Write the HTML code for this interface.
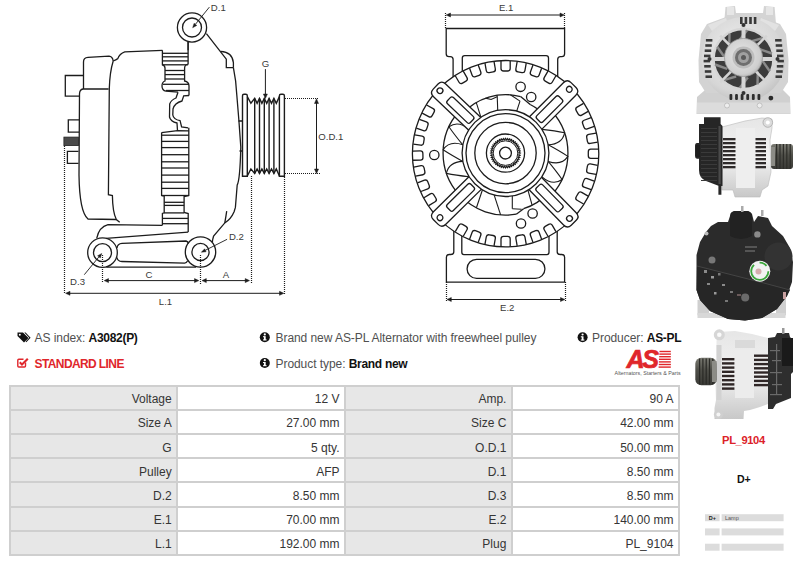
<!DOCTYPE html>
<html><head><meta charset="utf-8">
<style>
*{margin:0;padding:0;box-sizing:border-box}
html,body{width:800px;height:564px;overflow:hidden;background:#fff;font-family:"Liberation Sans",sans-serif;color:#333}
#draw{position:absolute;left:0;top:0}
.c{position:absolute;text-align:right;font-size:12px;color:#353535}
.c span{position:absolute;right:5.3px;top:6.5px;white-space:nowrap}
.hl{position:absolute;left:8.5px;width:671.3px;height:2px;background:#cfcfcf}
.vl{position:absolute;top:384.6px;height:171.3px;width:2px;background:#cfcfcf}
.t{position:absolute;white-space:nowrap;font-size:12px;color:#505050;letter-spacing:-0.06px}
.t b{color:#111;letter-spacing:-0.3px}
</style></head><body>
<svg id="draw" width="800" height="564" viewBox="0 0 800 564" font-family="Liberation Sans, sans-serif">
<path d="M83.5,89 L83.5,62 Q83.5,57.5 88,57.3 L109,56.2 Q112.5,56.4 113.2,61" fill="none" stroke="#1c1c1c" stroke-width="1.3" />
<path d="M83.5,75.5 L65.3,75.5 L65.3,96.2 L80,96.2" fill="none" stroke="#1c1c1c" stroke-width="1.3" />
<path d="M108.6,89 L83,89 Q79.6,89.5 79.5,94 L79,175 Q79.5,212 88,219 L116.3,219.5" fill="none" stroke="#1c1c1c" stroke-width="1.3" />
<path d="M79,119.8 L68.3,119.8 L68.3,132.2 L79,132.2" fill="none" stroke="#1c1c1c" stroke-width="1.3" />
<rect x="63.9" y="137.1" width="14.5" height="8.5" fill="#4a4a4a" stroke="#222" stroke-width="0.8"/>
<path d="M78.5,151.3 L67.4,151.3 L67.4,163.3 L78.5,163.3" fill="none" stroke="#1c1c1c" stroke-width="1.3" />
<path d="M113.2,61 Q116,59.8 117.8,58.6 Q119.5,53.5 124.8,51.8 L162.4,50.3" fill="none" stroke="#1c1c1c" stroke-width="1.3" />
<path d="M113.2,61 Q109.8,72 109.3,88.4 L108.4,194.7 L112.4,195.5 Q112.6,212 116.3,219.5 L119.7,222.3" fill="none" stroke="#1c1c1c" stroke-width="1.3" />
<path d="M162.4,50.3 L162.4,64.8 Q165,65.5 165,68 L165,81 Q162,82 162,86 Q162,90.5 166,91.2 L178,92.2" fill="none" stroke="#1c1c1c" stroke-width="1.3" />
<path d="M188.1,42 L188.1,64 Q184.6,65 184.6,68 L184.6,81 Q189,82 189,86 L189,95.5" fill="none" stroke="#1c1c1c" stroke-width="1.3" />
<line x1="162.4" y1="53.3" x2="188.1" y2="53.3" stroke="#1c1c1c" stroke-width="1.3" />
<line x1="162.4" y1="56.8" x2="188.1" y2="56.8" stroke="#1c1c1c" stroke-width="1.3" />
<line x1="162.4" y1="60.9" x2="188.1" y2="60.9" stroke="#1c1c1c" stroke-width="1.3" />
<line x1="162.4" y1="64.8" x2="188.1" y2="64.8" stroke="#1c1c1c" stroke-width="1.3" />
<line x1="165" y1="70.5" x2="184.6" y2="70.5" stroke="#1c1c1c" stroke-width="1.3" />
<line x1="165" y1="74.6" x2="184.6" y2="74.6" stroke="#1c1c1c" stroke-width="1.3" />
<line x1="165" y1="79" x2="184.6" y2="79" stroke="#1c1c1c" stroke-width="1.3" />
<line x1="163" y1="84.3" x2="189" y2="84.3" stroke="#1c1c1c" stroke-width="1.3" />
<line x1="166" y1="90.5" x2="189" y2="90.5" stroke="#1c1c1c" stroke-width="1.3" />
<path d="M178,92.2 L176,98 Q171,100 169.7,104 L169.5,117 Q170.5,121.5 177,123 L177.5,130.6" fill="none" stroke="#1c1c1c" stroke-width="1.3" />
<path d="M189,95.5 L183.7,95.9 L182,101 Q174.5,103 173,109 L172.8,115 Q173.5,119.5 180.1,120.7 L181.6,126.9 L188.1,127.8" fill="none" stroke="#1c1c1c" stroke-width="1.3" />
<path d="M161.6,132.6 L177.5,130.6 L188.8,130.8" fill="none" stroke="#1c1c1c" stroke-width="1.3" />
<path d="M161.6,132.6 L161.6,195.5 L164.2,196 L164.2,212.9 L162.4,213.5 L162.4,225.3" fill="none" stroke="#1c1c1c" stroke-width="1.3" />
<path d="M188.8,127.8 L188.8,195.5 L184.1,196.5 L184.1,212.5 L188.2,213.5 L188.2,232.1" fill="none" stroke="#1c1c1c" stroke-width="1.3" />
<line x1="161.6" y1="135.2" x2="188.8" y2="135.2" stroke="#1c1c1c" stroke-width="1.3" />
<line x1="161.6" y1="141.4" x2="188.8" y2="141.4" stroke="#1c1c1c" stroke-width="1.3" />
<line x1="161.6" y1="147.6" x2="188.8" y2="147.6" stroke="#1c1c1c" stroke-width="1.3" />
<line x1="161.6" y1="154.7" x2="188.8" y2="154.7" stroke="#1c1c1c" stroke-width="1.3" />
<line x1="161.6" y1="161.8" x2="188.8" y2="161.8" stroke="#1c1c1c" stroke-width="1.3" />
<line x1="161.6" y1="168" x2="188.8" y2="168" stroke="#1c1c1c" stroke-width="1.3" />
<line x1="161.6" y1="175.1" x2="188.8" y2="175.1" stroke="#1c1c1c" stroke-width="1.3" />
<line x1="161.6" y1="182.2" x2="188.8" y2="182.2" stroke="#1c1c1c" stroke-width="1.3" />
<line x1="161.6" y1="188.4" x2="188.8" y2="188.4" stroke="#1c1c1c" stroke-width="1.3" />
<line x1="161.6" y1="195.5" x2="188.8" y2="195.5" stroke="#1c1c1c" stroke-width="1.3" />
<line x1="164.2" y1="202.3" x2="184.1" y2="202.3" stroke="#1c1c1c" stroke-width="1.3" />
<line x1="164.2" y1="205.4" x2="184.1" y2="205.4" stroke="#1c1c1c" stroke-width="1.3" />
<line x1="164.2" y1="212.9" x2="184.1" y2="212.9" stroke="#1c1c1c" stroke-width="1.3" />
<line x1="162.4" y1="218.4" x2="188.2" y2="218.4" stroke="#1c1c1c" stroke-width="1.3" />
<line x1="162.4" y1="223.7" x2="188.2" y2="223.7" stroke="#1c1c1c" stroke-width="1.3" />
<path d="M96.7,238.4 Q99,227 108,224.7 L162.4,225.3" fill="none" stroke="#1c1c1c" stroke-width="1.3" />
<path d="M106,238.3 L188.2,232.1" fill="none" stroke="#1c1c1c" stroke-width="1.3" />
<path d="M117,248 Q117.5,243.7 122,243.4 L186,241 Q188,241.5 188.5,243.5" fill="none" stroke="#1c1c1c" stroke-width="1.3" />
<path d="M117,257.5 Q117.5,261.3 122,261.5 L184.6,263.2 Q186.5,263 187.5,261" fill="none" stroke="#1c1c1c" stroke-width="1.3" />
<line x1="106.4" y1="267.2" x2="196" y2="267.2" stroke="#1c1c1c" stroke-width="1.3" />
<circle cx="102.5" cy="252.6" r="14.8" fill="none" stroke="#1c1c1c" stroke-width="1.3"/>
<circle cx="102.5" cy="252.6" r="9" fill="none" stroke="#1c1c1c" stroke-width="1.3"/>
<circle cx="200.5" cy="252" r="15.2" fill="none" stroke="#1c1c1c" stroke-width="1.3"/>
<circle cx="200.5" cy="252" r="8.6" fill="none" stroke="#1c1c1c" stroke-width="1.3"/>
<circle cx="192" cy="27.5" r="14.6" fill="none" stroke="#1c1c1c" stroke-width="1.3"/>
<circle cx="192" cy="27.5" r="9.5" fill="none" stroke="#1c1c1c" stroke-width="1.3"/>
<line x1="188.1" y1="42" x2="188.1" y2="50.3" stroke="#1c1c1c" stroke-width="1.3" />
<path d="M206.4,33.7 L226.3,59.1 L226.3,67.7 L233.4,67.7" fill="none" stroke="#1c1c1c" stroke-width="1.3" />
<path d="M220.6,51.3 Q232.5,52 233.4,62.7 L233.4,67.7" fill="none" stroke="#1c1c1c" stroke-width="1.3" />
<path d="M233.4,67.7 Q236,80 236.8,95 Q239,120 240.8,147 Q240,180 237.2,185 L235.4,207.4 L234.1,211.7 Q231,219 224.8,222.9 L213.6,236 Q212.4,240 212.4,242.1" fill="none" stroke="#1c1c1c" stroke-width="1.3" />
<path d="M224.8,222.9 Q226,216 226.7,211.1" fill="none" stroke="#1c1c1c" stroke-width="1.3" />
<path d="M238.5,121 L242.4,121 M239.5,151 L242.4,151" fill="none" stroke="#1c1c1c" stroke-width="1.3" />
<path d="M242.5,176.3 L242.5,95.8 Q242.5,94.3 244,94.3 L245.8,94.3 Q247.3,94.3 247.3,95.8 L247.3,176.3 Z" fill="none" stroke="#1c1c1c" stroke-width="1.4" />
<path d="M279.4,176.3 L279.4,95.8 Q279.4,94.3 280.9,94.3 L282.9,94.3 Q284.4,94.3 284.4,95.8 L284.4,176.3 Z" fill="none" stroke="#1c1c1c" stroke-width="1.4" />
<path d="M247.3,96.6 L250.9,103.3 L254.7,98.4 L257.1,103.3 L259.5,98.4 L261.9,103.3 L264.3,98.4 L266.7,103.3 L269.1,98.4 L271.5,103.3 L273.9,98.4 L276.3,103.3 L279.4,96.6" fill="none" stroke="#1c1c1c" stroke-width="1.4" />
<path d="M247.3,176 L250.9,168.9 L254.7,173.4 L257.1,168.9 L259.5,173.4 L261.9,168.9 L264.3,173.4 L266.7,168.9 L269.1,173.4 L271.5,168.9 L273.9,173.4 L276.3,168.9 L279.4,176" fill="none" stroke="#1c1c1c" stroke-width="1.4" />
<line x1="254.7" y1="98.4" x2="254.7" y2="173.4" stroke="#1c1c1c" stroke-width="1.4" />
<line x1="259.5" y1="98.4" x2="259.5" y2="173.4" stroke="#1c1c1c" stroke-width="1.4" />
<line x1="264.3" y1="98.4" x2="264.3" y2="173.4" stroke="#1c1c1c" stroke-width="1.4" />
<line x1="269.1" y1="98.4" x2="269.1" y2="173.4" stroke="#1c1c1c" stroke-width="1.4" />
<line x1="273.9" y1="98.4" x2="273.9" y2="173.4" stroke="#1c1c1c" stroke-width="1.4" />
<line x1="265.4" y1="69.1" x2="265.4" y2="96" stroke="#1c1c1c" stroke-width="1" />
<path d="M263.4,94 L265.4,98.5 L267.4,94 Z" fill="#1c1c1c" stroke="#1c1c1c" stroke-width="0.5" />
<text x="265.4" y="67.3" font-size="9.6" text-anchor="middle" fill="#3a3a3a">G</text>
<line x1="285" y1="98.5" x2="318" y2="98.5" stroke="#1c1c1c" stroke-width="1.2" stroke-dasharray="1 1"/>
<line x1="285" y1="173.5" x2="320" y2="173.5" stroke="#1c1c1c" stroke-width="1.2" stroke-dasharray="1 1"/>
<line x1="316.5" y1="101" x2="316.5" y2="171.5" stroke="#1c1c1c" stroke-width="1" />
<path d="M314.5,103.5 L316.5,98.8 L318.5,103.5 Z" fill="#1c1c1c" stroke="#1c1c1c" stroke-width="0.5" />
<path d="M314.5,169 L316.5,173.6 L318.5,169 Z" fill="#1c1c1c" stroke="#1c1c1c" stroke-width="0.5" />
<text x="330.8" y="140.3" font-size="9.6" text-anchor="middle" fill="#3a3a3a">O.D.1</text>
<line x1="64.5" y1="146" x2="64.5" y2="294" stroke="#1c1c1c" stroke-width="1.2" stroke-dasharray="1 1"/>
<line x1="102.5" y1="255" x2="102.5" y2="283" stroke="#1c1c1c" stroke-width="1.2" stroke-dasharray="1 1"/>
<line x1="200.5" y1="255" x2="200.5" y2="284" stroke="#1c1c1c" stroke-width="1.2" stroke-dasharray="1 1"/>
<line x1="251.5" y1="176" x2="251.5" y2="283" stroke="#1c1c1c" stroke-width="1.2" stroke-dasharray="1 1"/>
<line x1="284.5" y1="177" x2="284.5" y2="295" stroke="#1c1c1c" stroke-width="1.2" stroke-dasharray="1 1"/>
<line x1="106" y1="280.6" x2="197" y2="280.6" stroke="#1c1c1c" stroke-width="1" />
<path d="M108.5,278.6 L104.2,280.6 L108.5,282.6 Z" fill="#1c1c1c" stroke="#1c1c1c" stroke-width="0.5" />
<path d="M194.5,278.6 L198.8,280.6 L194.5,282.6 Z" fill="#1c1c1c" stroke="#1c1c1c" stroke-width="0.5" />
<text x="149" y="277.6" font-size="9.6" text-anchor="middle" fill="#3a3a3a">C</text>
<line x1="204" y1="280.6" x2="248" y2="280.6" stroke="#1c1c1c" stroke-width="1" />
<path d="M206.3,278.6 L202,280.6 L206.3,282.6 Z" fill="#1c1c1c" stroke="#1c1c1c" stroke-width="0.5" />
<path d="M245.2,278.6 L249.5,280.6 L245.2,282.6 Z" fill="#1c1c1c" stroke="#1c1c1c" stroke-width="0.5" />
<text x="226" y="278" font-size="9.6" text-anchor="middle" fill="#3a3a3a">A</text>
<line x1="67" y1="293.3" x2="282" y2="293.3" stroke="#1c1c1c" stroke-width="1" />
<path d="M70,291.3 L65.6,293.3 L70,295.3 Z" fill="#1c1c1c" stroke="#1c1c1c" stroke-width="0.5" />
<path d="M279.5,291.3 L283.8,293.3 L279.5,295.3 Z" fill="#1c1c1c" stroke="#1c1c1c" stroke-width="0.5" />
<text x="165.5" y="304.8" font-size="9.6" text-anchor="middle" fill="#3a3a3a">L.1</text>
<line x1="84.3" y1="274.7" x2="98.9" y2="256.9" stroke="#1c1c1c" stroke-width="0.9" />
<path d="M101.8,253.4 L100.3,258 L97.6,255.8 Z" fill="#1c1c1c" stroke="#1c1c1c" stroke-width="0.4" />
<text x="77.5" y="284.5" font-size="9.6" text-anchor="middle" fill="#3a3a3a">D.3</text>
<line x1="227.1" y1="239.3" x2="205.3" y2="250.3" stroke="#1c1c1c" stroke-width="0.9" />
<path d="M201.3,252.3 L204.6,248.8 L206.1,251.8 Z" fill="#1c1c1c" stroke="#1c1c1c" stroke-width="0.4" />
<text x="236.4" y="240.1" font-size="9.6" text-anchor="middle" fill="#3a3a3a">D.2</text>
<line x1="209.4" y1="7.1" x2="195.4" y2="24.3" stroke="#1c1c1c" stroke-width="0.9" />
<path d="M192.6,27.8 L194.1,23.2 L196.8,25.4 Z" fill="#1c1c1c" stroke="#1c1c1c" stroke-width="0.4" />
<text x="218.3" y="10.6" font-size="9.6" text-anchor="middle" fill="#3a3a3a">D.1</text>
<path d="M453.1,80 L453.1,59.6 Q453.1,56.7 450.3,56.7 L449,56.7 Q446.2,56.7 446.2,53.8 L446.2,28.5 L564.6,28.5 L564.6,53.8 Q564.6,56.7 561.8,56.7 L560.5,56.7 Q557.7,56.7 557.7,59.6 L557.7,80" fill="none" stroke="#1c1c1c" stroke-width="1.3" />
<path d="M462.3,80 L462.3,58 Q462.3,55.6 464.7,55.6 L546.1,55.6 Q548.5,55.6 548.5,58 L548.5,80" fill="none" stroke="#1c1c1c" stroke-width="1.3" />
<path d="M453.8,225 L453.8,251.7 Q453.8,254.5 451,254.5 L449.2,254.5 Q446.4,254.5 446.4,257.3 L446.4,282.1 L564.6,282.1 L564.6,257.3 Q564.6,254.5 561.8,254.5 L560,254.5 Q557.2,254.5 557.2,251.7 L557.2,225" fill="none" stroke="#1c1c1c" stroke-width="1.3" />
<path d="M461.8,225 L461.8,252.3 Q461.8,254.6 464,254.6 L546.8,254.6 Q549,254.6 549,252.3 L549,225" fill="none" stroke="#1c1c1c" stroke-width="1.3" />
<rect x="467.1" y="259.3" width="77.8" height="19.1" rx="9.5" fill="none" stroke="#1c1c1c" stroke-width="1.3"/>
<circle cx="505.6" cy="153.7" r="93.2" fill="#fff" stroke="#1c1c1c" stroke-width="1.3"/>
<g transform="translate(505.6,153.7) rotate(-30)"><path d="M92.7,-4.6 L85.2,-4.6 Q82.7,-4.6 82.7,-2 L82.7,2 Q82.7,4.6 85.2,4.6 L92.7,4.6" fill="none" stroke="#1c1c1c" stroke-width="1.3"/></g>
<g transform="translate(505.6,153.7) rotate(-20)"><path d="M92.7,-4.6 L85.2,-4.6 Q82.7,-4.6 82.7,-2 L82.7,2 Q82.7,4.6 85.2,4.6 L92.7,4.6" fill="none" stroke="#1c1c1c" stroke-width="1.3"/></g>
<g transform="translate(505.6,153.7) rotate(-10)"><path d="M92.7,-4.6 L85.2,-4.6 Q82.7,-4.6 82.7,-2 L82.7,2 Q82.7,4.6 85.2,4.6 L92.7,4.6" fill="none" stroke="#1c1c1c" stroke-width="1.3"/></g>
<g transform="translate(505.6,153.7) rotate(0)"><path d="M92.7,-4.6 L85.2,-4.6 Q82.7,-4.6 82.7,-2 L82.7,2 Q82.7,4.6 85.2,4.6 L92.7,4.6" fill="none" stroke="#1c1c1c" stroke-width="1.3"/></g>
<g transform="translate(505.6,153.7) rotate(10)"><path d="M92.7,-4.6 L85.2,-4.6 Q82.7,-4.6 82.7,-2 L82.7,2 Q82.7,4.6 85.2,4.6 L92.7,4.6" fill="none" stroke="#1c1c1c" stroke-width="1.3"/></g>
<g transform="translate(505.6,153.7) rotate(20)"><path d="M92.7,-4.6 L85.2,-4.6 Q82.7,-4.6 82.7,-2 L82.7,2 Q82.7,4.6 85.2,4.6 L92.7,4.6" fill="none" stroke="#1c1c1c" stroke-width="1.3"/></g>
<g transform="translate(505.6,153.7) rotate(30)"><path d="M92.7,-4.6 L85.2,-4.6 Q82.7,-4.6 82.7,-2 L82.7,2 Q82.7,4.6 85.2,4.6 L92.7,4.6" fill="none" stroke="#1c1c1c" stroke-width="1.3"/></g>
<g transform="translate(505.6,153.7) rotate(60)"><path d="M92.7,-4.6 L85.2,-4.6 Q82.7,-4.6 82.7,-2 L82.7,2 Q82.7,4.6 85.2,4.6 L92.7,4.6" fill="none" stroke="#1c1c1c" stroke-width="1.3"/></g>
<g transform="translate(505.6,153.7) rotate(70)"><path d="M92.7,-4.6 L85.2,-4.6 Q82.7,-4.6 82.7,-2 L82.7,2 Q82.7,4.6 85.2,4.6 L92.7,4.6" fill="none" stroke="#1c1c1c" stroke-width="1.3"/></g>
<g transform="translate(505.6,153.7) rotate(80)"><path d="M92.7,-4.6 L85.2,-4.6 Q82.7,-4.6 82.7,-2 L82.7,2 Q82.7,4.6 85.2,4.6 L92.7,4.6" fill="none" stroke="#1c1c1c" stroke-width="1.3"/></g>
<g transform="translate(505.6,153.7) rotate(90)"><path d="M92.7,-4.6 L85.2,-4.6 Q82.7,-4.6 82.7,-2 L82.7,2 Q82.7,4.6 85.2,4.6 L92.7,4.6" fill="none" stroke="#1c1c1c" stroke-width="1.3"/></g>
<g transform="translate(505.6,153.7) rotate(100)"><path d="M92.7,-4.6 L85.2,-4.6 Q82.7,-4.6 82.7,-2 L82.7,2 Q82.7,4.6 85.2,4.6 L92.7,4.6" fill="none" stroke="#1c1c1c" stroke-width="1.3"/></g>
<g transform="translate(505.6,153.7) rotate(110)"><path d="M92.7,-4.6 L85.2,-4.6 Q82.7,-4.6 82.7,-2 L82.7,2 Q82.7,4.6 85.2,4.6 L92.7,4.6" fill="none" stroke="#1c1c1c" stroke-width="1.3"/></g>
<g transform="translate(505.6,153.7) rotate(120)"><path d="M92.7,-4.6 L85.2,-4.6 Q82.7,-4.6 82.7,-2 L82.7,2 Q82.7,4.6 85.2,4.6 L92.7,4.6" fill="none" stroke="#1c1c1c" stroke-width="1.3"/></g>
<g transform="translate(505.6,153.7) rotate(148.8)"><path d="M92.7,-4.6 L85.2,-4.6 Q82.7,-4.6 82.7,-2 L82.7,2 Q82.7,4.6 85.2,4.6 L92.7,4.6" fill="none" stroke="#1c1c1c" stroke-width="1.3"/></g>
<g transform="translate(505.6,153.7) rotate(158.8)"><path d="M92.7,-4.6 L85.2,-4.6 Q82.7,-4.6 82.7,-2 L82.7,2 Q82.7,4.6 85.2,4.6 L92.7,4.6" fill="none" stroke="#1c1c1c" stroke-width="1.3"/></g>
<g transform="translate(505.6,153.7) rotate(168.8)"><path d="M92.7,-4.6 L85.2,-4.6 Q82.7,-4.6 82.7,-2 L82.7,2 Q82.7,4.6 85.2,4.6 L92.7,4.6" fill="none" stroke="#1c1c1c" stroke-width="1.3"/></g>
<g transform="translate(505.6,153.7) rotate(178.8)"><path d="M92.7,-4.6 L85.2,-4.6 Q82.7,-4.6 82.7,-2 L82.7,2 Q82.7,4.6 85.2,4.6 L92.7,4.6" fill="none" stroke="#1c1c1c" stroke-width="1.3"/></g>
<g transform="translate(505.6,153.7) rotate(188.8)"><path d="M92.7,-4.6 L85.2,-4.6 Q82.7,-4.6 82.7,-2 L82.7,2 Q82.7,4.6 85.2,4.6 L92.7,4.6" fill="none" stroke="#1c1c1c" stroke-width="1.3"/></g>
<g transform="translate(505.6,153.7) rotate(198.8)"><path d="M92.7,-4.6 L85.2,-4.6 Q82.7,-4.6 82.7,-2 L82.7,2 Q82.7,4.6 85.2,4.6 L92.7,4.6" fill="none" stroke="#1c1c1c" stroke-width="1.3"/></g>
<g transform="translate(505.6,153.7) rotate(208.8)"><path d="M92.7,-4.6 L85.2,-4.6 Q82.7,-4.6 82.7,-2 L82.7,2 Q82.7,4.6 85.2,4.6 L92.7,4.6" fill="none" stroke="#1c1c1c" stroke-width="1.3"/></g>
<g transform="translate(505.6,153.7) rotate(240)"><path d="M92.7,-4.6 L85.2,-4.6 Q82.7,-4.6 82.7,-2 L82.7,2 Q82.7,4.6 85.2,4.6 L92.7,4.6" fill="none" stroke="#1c1c1c" stroke-width="1.3"/></g>
<g transform="translate(505.6,153.7) rotate(250)"><path d="M92.7,-4.6 L85.2,-4.6 Q82.7,-4.6 82.7,-2 L82.7,2 Q82.7,4.6 85.2,4.6 L92.7,4.6" fill="none" stroke="#1c1c1c" stroke-width="1.3"/></g>
<g transform="translate(505.6,153.7) rotate(260)"><path d="M92.7,-4.6 L85.2,-4.6 Q82.7,-4.6 82.7,-2 L82.7,2 Q82.7,4.6 85.2,4.6 L92.7,4.6" fill="none" stroke="#1c1c1c" stroke-width="1.3"/></g>
<g transform="translate(505.6,153.7) rotate(270)"><path d="M92.7,-4.6 L85.2,-4.6 Q82.7,-4.6 82.7,-2 L82.7,2 Q82.7,4.6 85.2,4.6 L92.7,4.6" fill="none" stroke="#1c1c1c" stroke-width="1.3"/></g>
<g transform="translate(505.6,153.7) rotate(280)"><path d="M92.7,-4.6 L85.2,-4.6 Q82.7,-4.6 82.7,-2 L82.7,2 Q82.7,4.6 85.2,4.6 L92.7,4.6" fill="none" stroke="#1c1c1c" stroke-width="1.3"/></g>
<g transform="translate(505.6,153.7) rotate(290)"><path d="M92.7,-4.6 L85.2,-4.6 Q82.7,-4.6 82.7,-2 L82.7,2 Q82.7,4.6 85.2,4.6 L92.7,4.6" fill="none" stroke="#1c1c1c" stroke-width="1.3"/></g>
<g transform="translate(505.6,153.7) rotate(300)"><path d="M92.7,-4.6 L85.2,-4.6 Q82.7,-4.6 82.7,-2 L82.7,2 Q82.7,4.6 85.2,4.6 L92.7,4.6" fill="none" stroke="#1c1c1c" stroke-width="1.3"/></g>
<path d="M551.9,111.3 A62.5,62.5 0 0 1 551.9,194.9" fill="none" stroke="#1c1c1c" stroke-width="1.3" />
<path d="M459.1,194.9 A62.5,62.5 0 0 1 459.1,111.3" fill="none" stroke="#1c1c1c" stroke-width="1.3" />
<path d="M462,114 A58.5,58.5 0 0 1 520.6,96.6" fill="none" stroke="#1c1c1c" stroke-width="1.3" />
<path d="M520.6,96.6 L530.2,104.5" fill="none" stroke="#1c1c1c" stroke-width="1.3" />
<path d="M530.2,104.5 A54.5,54.5 0 0 1 546,116.6" fill="none" stroke="#1c1c1c" stroke-width="1.3" />
<path d="M549,192.2 A58.5,58.5 0 0 1 523.6,208.7" fill="none" stroke="#1c1c1c" stroke-width="1.3" />
<path d="M523.6,208.7 L516.3,214.2" fill="none" stroke="#1c1c1c" stroke-width="1.3" />
<path d="M516.3,214.2 A62,62 0 0 1 459.4,194.6" fill="none" stroke="#1c1c1c" stroke-width="1.3" />
<path d="M480.9,117.2 L476.2,102.4" fill="none" stroke="#1c1c1c" stroke-width="1.1" />
<path d="M497.7,110.3 L497.2,95.2" fill="none" stroke="#1c1c1c" stroke-width="1.1" />
<path d="M516.7,111.1 L520,101.1" fill="none" stroke="#1c1c1c" stroke-width="1.1" />
<path d="M520,101.1 L510.4,94.8" fill="none" stroke="#1c1c1c" stroke-width="1.1" />
<path d="M485.5,98.1 L491.1,99.5 L497.1,96.7" fill="none" stroke="#1c1c1c" stroke-width="1.1" />
<path d="M494.2,195.1 L500.6,214.9" fill="none" stroke="#1c1c1c" stroke-width="1.1" />
<path d="M512.3,196.1 L512.3,208.7" fill="none" stroke="#1c1c1c" stroke-width="1.1" />
<path d="M512.3,208.7 L521.6,209.3" fill="none" stroke="#1c1c1c" stroke-width="1.1" />
<path d="M528,190.3 L532.1,205.2" fill="none" stroke="#1c1c1c" stroke-width="1.1" />
<path d="M482.4,190 L476.4,207.8" fill="none" stroke="#1c1c1c" stroke-width="1.1" />
<path d="M542,129.4 Q555.3,130.9 564.6,132.8 Q562.3,144.1 548.2,144.8" fill="none" stroke="#1c1c1c" stroke-width="1.1" />
<path d="M548.2,144.8 Q560,151.2 567.9,156.4 Q561.5,166 548.2,161.4" fill="none" stroke="#1c1c1c" stroke-width="1.1" />
<path d="M548.2,161.4 Q556.7,171.7 562.1,179.5 Q552.6,186.1 542,176.8" fill="none" stroke="#1c1c1c" stroke-width="1.1" />
<path d="M469,176.8 Q455.7,175.3 446.4,173.4 Q448.7,162.1 462.8,161.4" fill="none" stroke="#1c1c1c" stroke-width="1.1" />
<path d="M462.8,161.4 Q451,155 443.1,149.8 Q449.5,140.2 462.8,144.8" fill="none" stroke="#1c1c1c" stroke-width="1.1" />
<path d="M462.8,144.8 Q454.3,134.5 448.9,126.7 Q458.4,120.1 469,129.4" fill="none" stroke="#1c1c1c" stroke-width="1.1" />
<g transform="translate(505.5,153.1) rotate(-136.4)"><path d="M42,-8.8 L91,-8.8 Q96.5,-8.8 96.5,-3.5 L96.5,3.5 Q96.5,8.8 91,8.8 L42,8.8" fill="#fff" stroke="#1c1c1c" stroke-width="1.3"/><circle cx="90.5" cy="0" r="2.9" fill="none" stroke="#1c1c1c" stroke-width="1.3"/><rect x="46.5" y="-4.3" width="31.7" height="8.6" rx="2.2" fill="none" stroke="#1c1c1c" stroke-width="1.3"/></g>
<g transform="translate(505.5,153.1) rotate(135.4)"><path d="M42,-8.8 L92.5,-8.8 Q98,-8.8 98,-3.5 L98,3.5 Q98,8.8 92.5,8.8 L42,8.8" fill="#fff" stroke="#1c1c1c" stroke-width="1.3"/><circle cx="92" cy="0" r="2.9" fill="none" stroke="#1c1c1c" stroke-width="1.3"/><rect x="46.5" y="-4.3" width="33.2" height="8.6" rx="2.2" fill="none" stroke="#1c1c1c" stroke-width="1.3"/></g>
<g transform="translate(505.5,153.1) rotate(-45)"><path d="M42,-8.8 L90.7,-8.8 Q96.2,-8.8 96.2,-3.5 L96.2,3.5 Q96.2,8.8 90.7,8.8 L42,8.8" fill="#fff" stroke="#1c1c1c" stroke-width="1.3"/><circle cx="90.2" cy="0" r="2.9" fill="none" stroke="#1c1c1c" stroke-width="1.3"/><rect x="46.5" y="-4.3" width="31.4" height="8.6" rx="2.2" fill="none" stroke="#1c1c1c" stroke-width="1.3"/></g>
<g transform="translate(505.5,153.1) rotate(45.6)"><path d="M42,-8.8 L92,-8.8 Q97.5,-8.8 97.5,-3.5 L97.5,3.5 Q97.5,8.8 92,8.8 L42,8.8" fill="#fff" stroke="#1c1c1c" stroke-width="1.3"/><circle cx="91.5" cy="0" r="2.9" fill="none" stroke="#1c1c1c" stroke-width="1.3"/><rect x="46.5" y="-4.3" width="32.7" height="8.6" rx="2.2" fill="none" stroke="#1c1c1c" stroke-width="1.3"/></g>
<circle cx="505.5" cy="153.1" r="43.4" fill="#fff" stroke="#1c1c1c" stroke-width="1.3"/>
<circle cx="505.5" cy="153.1" r="39.5" fill="none" stroke="#1c1c1c" stroke-width="1.3"/>
<circle cx="505.5" cy="153.1" r="30.7" fill="none" stroke="#1c1c1c" stroke-width="1.3"/>
<circle cx="505.5" cy="153.1" r="19.1" fill="none" stroke="#1c1c1c" stroke-width="1.3"/>
<path d="M520.3,153.1 L518.8,154 L520.1,155.2 L518.5,155.9 L519.7,157.3 L518,157.7 L519,159.2 L517.2,159.5 L518,161.1 L516.1,161.1 L516.7,162.8 L514.9,162.5 L515.2,164.3 L513.5,163.7 L513.5,165.6 L511.9,164.8 L511.6,166.6 L510.1,165.6 L509.7,167.3 L508.3,166.1 L507.6,167.7 L506.4,166.4 L505.5,167.9 L504.6,166.4 L503.4,167.7 L502.7,166.1 L501.3,167.3 L500.9,165.6 L499.4,166.6 L499.1,164.8 L497.5,165.6 L497.5,163.7 L495.8,164.3 L496.1,162.5 L494.3,162.8 L494.9,161.1 L493,161.1 L493.8,159.5 L492,159.2 L493,157.7 L491.3,157.3 L492.5,155.9 L490.9,155.2 L492.2,154 L490.7,153.1 L492.2,152.2 L490.9,151 L492.5,150.3 L491.3,148.9 L493,148.5 L492,147 L493.8,146.7 L493,145.1 L494.9,145.1 L494.3,143.4 L496.1,143.7 L495.8,141.9 L497.5,142.5 L497.5,140.6 L499.1,141.4 L499.4,139.6 L500.9,140.6 L501.3,138.9 L502.7,140.1 L503.4,138.5 L504.6,139.8 L505.5,138.3 L506.4,139.8 L507.6,138.5 L508.3,140.1 L509.7,138.9 L510.1,140.6 L511.6,139.6 L511.9,141.4 L513.5,140.6 L513.5,142.5 L515.2,141.9 L514.9,143.7 L516.7,143.4 L516.1,145.1 L518,145.1 L517.2,146.7 L519,147 L518,148.5 L519.7,148.9 L518.5,150.3 L520.1,151 L518.8,152.2 Z" fill="none" stroke="#1c1c1c" stroke-width="1.2" />
<circle cx="505.5" cy="153.1" r="12.3" fill="none" stroke="#1c1c1c" stroke-width="1"/>
<circle cx="505.5" cy="153.1" r="5.9" fill="none" stroke="#1c1c1c" stroke-width="1.3"/>
<circle cx="520.6" cy="86.8" r="4.7" fill="none" stroke="#1c1c1c" stroke-width="1.3"/>
<circle cx="531.2" cy="97" r="4.7" fill="none" stroke="#1c1c1c" stroke-width="1.3"/>
<circle cx="532.6" cy="213.5" r="4.7" fill="none" stroke="#1c1c1c" stroke-width="1.3"/>
<circle cx="521" cy="223.5" r="4.7" fill="none" stroke="#1c1c1c" stroke-width="1.3"/>
<circle cx="434.3" cy="155" r="4.7" fill="none" stroke="#1c1c1c" stroke-width="1.3"/>
<line x1="445.5" y1="13" x2="445.5" y2="28" stroke="#1c1c1c" stroke-width="1.2" stroke-dasharray="1 1"/>
<line x1="564.5" y1="13" x2="564.5" y2="28" stroke="#1c1c1c" stroke-width="1.2" stroke-dasharray="1 1"/>
<line x1="448" y1="15" x2="562" y2="15" stroke="#1c1c1c" stroke-width="1" />
<path d="M450.5,13 L446.2,15 L450.5,17 Z" fill="#1c1c1c" stroke="#1c1c1c" stroke-width="0.5" />
<path d="M560,13 L564.3,15 L560,17 Z" fill="#1c1c1c" stroke="#1c1c1c" stroke-width="0.5" />
<text x="506.1" y="10.8" font-size="9.6" text-anchor="middle" fill="#3a3a3a">E.1</text>
<line x1="446.5" y1="282" x2="446.5" y2="302" stroke="#1c1c1c" stroke-width="1.2" stroke-dasharray="1 1"/>
<line x1="565.5" y1="282" x2="565.5" y2="302" stroke="#1c1c1c" stroke-width="1.2" stroke-dasharray="1 1"/>
<line x1="449" y1="299.5" x2="563" y2="299.5" stroke="#1c1c1c" stroke-width="1" />
<path d="M451.3,297.5 L447,299.5 L451.3,301.5 Z" fill="#1c1c1c" stroke="#1c1c1c" stroke-width="0.5" />
<path d="M560.5,297.5 L564.8,299.5 L560.5,301.5 Z" fill="#1c1c1c" stroke="#1c1c1c" stroke-width="0.5" />
<text x="507.2" y="310.6" font-size="9.6" text-anchor="middle" fill="#3a3a3a">E.2</text>
<defs>
<radialGradient id="silv" cx="0.45" cy="0.4" r="0.7"><stop offset="0" stop-color="#f0f0f0"/><stop offset="0.7" stop-color="#d6d6d6"/><stop offset="1" stop-color="#b8b8b8"/></radialGradient>
<linearGradient id="silvV" x1="0" y1="0" x2="0" y2="1"><stop offset="0" stop-color="#e6e6e6"/><stop offset="0.5" stop-color="#f2f2f2"/><stop offset="1" stop-color="#c8c8c8"/></linearGradient>
<linearGradient id="pulV" x1="0" y1="0" x2="0" y2="1"><stop offset="0" stop-color="#7a7a72"/><stop offset="0.45" stop-color="#4e4e48"/><stop offset="1" stop-color="#3a3a36"/></linearGradient>
<radialGradient id="pulF" cx="0.45" cy="0.45" r="0.6"><stop offset="0" stop-color="#e8e8e8"/><stop offset="0.8" stop-color="#cfcfcf"/><stop offset="1" stop-color="#b0b0b0"/></radialGradient>
<radialGradient id="blk" cx="0.45" cy="0.4" r="0.65"><stop offset="0" stop-color="#3a3a3a"/><stop offset="1" stop-color="#222"/></radialGradient>
</defs>
<g>
<path d="M697,97 L712,84 L777,84 L790,97 L790.5,114 L696.5,114 Z" fill="#d0d0d0"/>
<rect x="697" y="102.5" width="93" height="11" fill="#dcdcdc"/>
<circle cx="727" cy="105.5" r="2.5" fill="#eeeeee" stroke="#aaa" stroke-width="0.6"/><circle cx="759.6" cy="105.5" r="2.5" fill="#eeeeee" stroke="#aaa" stroke-width="0.6"/><circle cx="770.9" cy="98.1" r="2.4" fill="#2a2a2a"/>
<path d="M725.5,7 L735,6 L736,13 L763,13 L764,6 L774.6,7 L776,24 L724,24 Z" fill="#d4d4d4"/>
<rect x="727" y="7" width="7" height="8" fill="#e6e6e6"/><rect x="766" y="7" width="7" height="8" fill="#e6e6e6"/>
<path d="M726,17 L707,24 L701,34 L698.5,60 L699,82 L706,93 L781,93 L788,82 L788.5,60 L786,34 L780,24 L761,17 Z" fill="#d3d3d3"/>
<path d="M726,18 L708,25 L712,31 L728,24 Z" fill="#e2e2e2"/><path d="M761,18 L779,25 L775,31 L759,24 Z" fill="#e2e2e2"/>
<circle cx="743.5" cy="59" r="42" fill="url(#silv)"/>
<rect x="705.9" y="39" width="6.5" height="2.6" fill="#3a3a3a"/>
<rect x="775.1" y="39" width="6.5" height="2.6" fill="#3a3a3a"/>
<rect x="705.3" y="44.2" width="6.5" height="2.6" fill="#3a3a3a"/>
<rect x="775.7" y="44.2" width="6.5" height="2.6" fill="#3a3a3a"/>
<rect x="704.7" y="49.4" width="6.5" height="2.6" fill="#3a3a3a"/>
<rect x="776.3" y="49.4" width="6.5" height="2.6" fill="#3a3a3a"/>
<rect x="704" y="54.6" width="6.5" height="2.6" fill="#3a3a3a"/>
<rect x="777" y="54.6" width="6.5" height="2.6" fill="#3a3a3a"/>
<rect x="703.6" y="59.8" width="6.5" height="2.6" fill="#3a3a3a"/>
<rect x="777.4" y="59.8" width="6.5" height="2.6" fill="#3a3a3a"/>
<rect x="704.2" y="65" width="6.5" height="2.6" fill="#3a3a3a"/>
<rect x="776.8" y="65" width="6.5" height="2.6" fill="#3a3a3a"/>
<rect x="704.8" y="70.2" width="6.5" height="2.6" fill="#3a3a3a"/>
<rect x="776.2" y="70.2" width="6.5" height="2.6" fill="#3a3a3a"/>
<rect x="705.5" y="75.4" width="6.5" height="2.6" fill="#3a3a3a"/>
<rect x="775.5" y="75.4" width="6.5" height="2.6" fill="#3a3a3a"/>
<rect x="740" y="17" width="2.6" height="7" fill="#3a3a3a"/>
<rect x="744.6" y="17" width="2.6" height="7" fill="#3a3a3a"/>
<rect x="749.2" y="17" width="2.6" height="7" fill="#3a3a3a"/>
<rect x="753.8" y="17" width="2.6" height="7" fill="#3a3a3a"/>
<rect x="729.5" y="94" width="2.8" height="6" rx="1" fill="#2e2e2e"/>
<rect x="735.1" y="94" width="2.8" height="6" rx="1" fill="#2e2e2e"/>
<rect x="740.7" y="94" width="2.8" height="6" rx="1" fill="#2e2e2e"/>
<rect x="746.3" y="94" width="2.8" height="6" rx="1" fill="#2e2e2e"/>
<rect x="751.9" y="94" width="2.8" height="6" rx="1" fill="#2e2e2e"/>
<rect x="757.5" y="94" width="2.8" height="6" rx="1" fill="#2e2e2e"/>
<circle cx="743.5" cy="59" r="30" fill="#3c3c3c"/>
<circle cx="743.5" cy="59" r="30" fill="none" stroke="#d6d6d6" stroke-width="2.5"/>
<line x1="762.4" y1="60.7" x2="769.8" y2="71.3" stroke="#8a8a8a" stroke-width="2.4"/>
<line x1="757.8" y1="71.5" x2="757.5" y2="84.4" stroke="#8a8a8a" stroke-width="2.4"/>
<line x1="747.8" y1="77.5" x2="739.9" y2="87.8" stroke="#8a8a8a" stroke-width="2.4"/>
<line x1="736.1" y1="76.5" x2="723.7" y2="80.2" stroke="#8a8a8a" stroke-width="2.4"/>
<line x1="727.2" y1="68.8" x2="715" y2="64.5" stroke="#8a8a8a" stroke-width="2.4"/>
<line x1="724.6" y1="57.3" x2="717.2" y2="46.7" stroke="#8a8a8a" stroke-width="2.4"/>
<line x1="729.2" y1="46.5" x2="729.5" y2="33.6" stroke="#8a8a8a" stroke-width="2.4"/>
<line x1="739.2" y1="40.5" x2="747.1" y2="30.2" stroke="#8a8a8a" stroke-width="2.4"/>
<line x1="750.9" y1="41.5" x2="763.3" y2="37.8" stroke="#8a8a8a" stroke-width="2.4"/>
<line x1="759.8" y1="49.2" x2="772" y2="53.5" stroke="#8a8a8a" stroke-width="2.4"/>
<line x1="760.5" y1="59" x2="776.5" y2="59" stroke="#d4d4d4" stroke-width="4"/>
<line x1="743.5" y1="76" x2="743.5" y2="92" stroke="#d4d4d4" stroke-width="4"/>
<line x1="726.5" y1="59" x2="710.5" y2="59" stroke="#d4d4d4" stroke-width="4"/>
<line x1="743.5" y1="42" x2="743.5" y2="26" stroke="#d4d4d4" stroke-width="4"/>
<line x1="755.5" y1="71" x2="766.8" y2="82.3" stroke="#d4d4d4" stroke-width="2.5"/>
<line x1="731.5" y1="71" x2="720.2" y2="82.3" stroke="#d4d4d4" stroke-width="2.5"/>
<line x1="731.5" y1="47" x2="720.2" y2="35.7" stroke="#d4d4d4" stroke-width="2.5"/>
<line x1="755.5" y1="47" x2="766.8" y2="35.7" stroke="#d4d4d4" stroke-width="2.5"/>
<circle cx="777.5" cy="59" r="2" fill="#333"/>
<circle cx="743.5" cy="93" r="2" fill="#333"/>
<circle cx="709.5" cy="59" r="2" fill="#333"/>
<circle cx="743.5" cy="25" r="2" fill="#333"/>
<circle cx="743.5" cy="57.5" r="19" fill="url(#pulF)" stroke="#9a9a9a" stroke-width="0.8"/>
<circle cx="743.5" cy="57.5" r="11" fill="#bdbdbd"/>
<circle cx="743.5" cy="57.5" r="8.5" fill="#6e6e6e"/>
<circle cx="743.5" cy="57.5" r="5.5" fill="#a0a0a0"/>
<circle cx="743.5" cy="57.5" r="2.5" fill="#5a5a5a"/>
</g>
<g>
<path d="M722,127 L745,121 L762,118 L772,119 L772,128 L770,140 L771,172 L768,186 L762,190 L760,197 L735,197 L733,190 L722,190 Z" fill="url(#silvV)" stroke="#b8b8b8" stroke-width="0.6"/>
<circle cx="767.8" cy="122.5" r="4.8" fill="#dcdcdc" stroke="#aaa" stroke-width="0.8"/><circle cx="767.8" cy="122.5" r="2" fill="#fff"/>
<rect x="736" y="128" width="19" height="60" fill="#eeeeee"/>
<rect x="723" y="138" width="12.5" height="2.3" fill="#2e2a2a"/>
<rect x="755.5" y="138" width="10.5" height="2.3" fill="#2e2a2a"/>
<rect x="723" y="142" width="12.5" height="2.3" fill="#2e2a2a"/>
<rect x="755.5" y="142" width="10.5" height="2.3" fill="#2e2a2a"/>
<rect x="723" y="146" width="12.5" height="2.3" fill="#2e2a2a"/>
<rect x="755.5" y="146" width="10.5" height="2.3" fill="#2e2a2a"/>
<rect x="723" y="150" width="12.5" height="2.3" fill="#2e2a2a"/>
<rect x="755.5" y="150" width="10.5" height="2.3" fill="#2e2a2a"/>
<rect x="723" y="154" width="12.5" height="2.3" fill="#2e2a2a"/>
<rect x="755.5" y="154" width="10.5" height="2.3" fill="#2e2a2a"/>
<rect x="723" y="158" width="12.5" height="2.3" fill="#2e2a2a"/>
<rect x="755.5" y="158" width="10.5" height="2.3" fill="#2e2a2a"/>
<rect x="723" y="162" width="12.5" height="2.3" fill="#2e2a2a"/>
<rect x="755.5" y="162" width="10.5" height="2.3" fill="#2e2a2a"/>
<rect x="723" y="166" width="12.5" height="2.3" fill="#2e2a2a"/>
<rect x="755.5" y="166" width="10.5" height="2.3" fill="#2e2a2a"/>
<path d="M699,124 L704,124 L704,117.3 L720.6,117.3 L720.6,124 L722.5,126 L722.5,186 L721.4,186 L721.4,194.8 L718.4,194.8 L718.4,185.8 L706,181 Q699,178 699,170 L699,158.7 L697,158.7 Q695,158.7 695,156 L695,146 Q695,142.9 697,142.9 L699,142.9 Z" fill="#262626"/>
<rect x="701" y="128" width="16" height="1" fill="#3a3a3a"/>
<rect x="701" y="132" width="16" height="1" fill="#3a3a3a"/>
<rect x="701" y="136" width="16" height="1" fill="#3a3a3a"/>
<rect x="701" y="140" width="16" height="1" fill="#3a3a3a"/>
<rect x="701" y="144" width="16" height="1" fill="#3a3a3a"/>
<rect x="701" y="148" width="16" height="1" fill="#3a3a3a"/>
<rect x="701" y="152" width="16" height="1" fill="#3a3a3a"/>
<rect x="701" y="156" width="16" height="1" fill="#3a3a3a"/>
<rect x="701" y="160" width="16" height="1" fill="#3a3a3a"/>
<rect x="701" y="164" width="16" height="1" fill="#3a3a3a"/>
<rect x="701" y="168" width="16" height="1" fill="#3a3a3a"/>
<rect x="701" y="172" width="16" height="1" fill="#3a3a3a"/>
<rect x="701" y="176" width="16" height="1" fill="#3a3a3a"/>
<rect x="701" y="180" width="16" height="1" fill="#3a3a3a"/>
<rect x="718.5" y="126" width="2.2" height="58" fill="#4a4a4a"/>
<rect x="696" y="145" width="4" height="12" fill="#1e1e1e"/>
<rect x="771" y="144" width="22" height="25" rx="3" fill="url(#pulV)"/>
<rect x="776" y="144" width="1.2" height="25" fill="#2e2e2a"/>
<rect x="779.4" y="144" width="1.2" height="25" fill="#2e2e2a"/>
<rect x="782.8" y="144" width="1.2" height="25" fill="#2e2e2a"/>
<rect x="786.2" y="144" width="1.2" height="25" fill="#2e2e2a"/>
<rect x="789.6" y="144" width="1.2" height="25" fill="#2e2e2a"/>
<rect x="771" y="147" width="4" height="19" fill="#8c8c86"/>
</g>
<g>
<path d="M697.5,300 L709,300 L709,315.3 L697.5,315.3 Z" fill="#cfcfcf"/>
<path d="M776,286 L786,286 L786,315.3 L776,315.3 Z" fill="#cfcfcf"/>
<rect x="697.5" y="313" width="88" height="5" fill="#d8d8d8"/>
<path d="M711,226 L706,232 L700,242 L696.5,255 L696.5,290 L700,300 L710,311 L728,319 L745,320.5 L762,318 L777,309 L787,296 L792,282 L793,262 L790,248 L783,236 L772,226 L768,218 L758,216 L754,222 L752,214 L748,211 L734,211 L730,216 L728,222 L718,222 Z" fill="#2b2b2b"/>
<path d="M730,216 Q730,211 736,211 L746,211 Q752,211 752,216 L752,236 Q741,242 730,236 Z" fill="#222"/>
<rect x="741" y="206" width="2.5" height="6" fill="#aaa"/><rect x="761" y="210" width="2.5" height="6" fill="#aaa"/>
<circle cx="778.5" cy="256.5" r="14" fill="#333"/>
<path d="M697,266 L760,282 L790,290 L787,296 L777,309 L762,318 L745,320.5 L728,319 L710,311 L700,300 L696.5,290 Z" fill="#262626"/>
<path d="M697,266 L760,282 L790,290" fill="none" stroke="#444" stroke-width="1"/>
<rect x="704" y="270" width="3" height="3" fill="#8a8a8a"/>
<rect x="711" y="276" width="3" height="2.5" fill="#9a9a9a"/>
<rect x="718" y="273" width="2.5" height="2.5" fill="#777"/>
<rect x="707" y="283" width="3" height="2" fill="#888"/>
<rect x="722" y="284" width="3" height="2" fill="#8a8a8a"/>
<rect x="730" y="291" width="3" height="2" fill="#777"/>
<rect x="714" y="292" width="2.5" height="2.5" fill="#999"/>
<rect x="737" y="294" width="4" height="2" fill="#6a5a5a"/>
<rect x="725" y="300" width="3" height="2" fill="#777"/>
<circle cx="712" cy="260" r="3.5" fill="#777"/>
<circle cx="757.4" cy="234.4" r="3.2" fill="#8a8a8a"/>
<circle cx="745.2" cy="297.6" r="4" fill="#6a6a6a"/>
<circle cx="706.5" cy="233.5" r="2" fill="#bbb"/>
<rect x="745" y="246" width="12" height="2" fill="#555"/><rect x="745" y="250" width="10" height="2" fill="#555"/>
<circle cx="759.8" cy="271.2" r="10.5" fill="#f2f2f2"/>
<circle cx="759.8" cy="271.2" r="8.6" fill="none" stroke="#3aa63a" stroke-width="1.8" stroke-dasharray="34 6 8 6"/>
<circle cx="758.5" cy="271.5" r="3" fill="#c08080" opacity="0.6"/>
<rect x="783" y="292" width="3" height="7" fill="#c8a0a0"/>
</g>
<g>
<path d="M716.5,341 L718,332 L735,331 L752,334 L768,338 L768,404 L760,407 L750,410 L744,411 L743.5,419 L714.5,419 L714.5,408 L716,400 L715.5,385 L716.5,357 Z" fill="url(#silvV)"/>
<circle cx="719.3" cy="334.8" r="5.5" fill="#d6d6d6"/><circle cx="719.3" cy="334.8" r="2.3" fill="#fafafa"/>
<circle cx="718.4" cy="414.6" r="4.5" fill="#d0d0d0"/><circle cx="718.4" cy="414.6" r="2" fill="#f4f4f4"/>
<rect x="716.5" y="345" width="5" height="55" fill="#d2d2d2"/>
<rect x="735" y="350" width="19" height="48" fill="#ececec"/>
<rect x="735" y="340" width="20" height="8" fill="#dadada"/>
<rect x="722" y="358" width="12.4" height="2.4" fill="#2f2626"/>
<rect x="722" y="362.2" width="12.4" height="2.4" fill="#2f2626"/>
<rect x="722" y="366.4" width="12.4" height="2.4" fill="#2f2626"/>
<rect x="722" y="370.6" width="12.4" height="2.4" fill="#2f2626"/>
<rect x="722" y="374.8" width="12.4" height="2.4" fill="#2f2626"/>
<rect x="722" y="379" width="12.4" height="2.4" fill="#2f2626"/>
<rect x="722" y="383.2" width="12.4" height="2.4" fill="#2f2626"/>
<rect x="722" y="387.4" width="12.4" height="2.4" fill="#2f2626"/>
<rect x="754" y="354.5" width="14" height="2.4" fill="#2f2626"/>
<rect x="754" y="358.7" width="14" height="2.4" fill="#2f2626"/>
<rect x="754" y="362.9" width="14" height="2.4" fill="#2f2626"/>
<rect x="754" y="367.1" width="14" height="2.4" fill="#2f2626"/>
<rect x="754" y="371.3" width="14" height="2.4" fill="#2f2626"/>
<rect x="754" y="375.5" width="14" height="2.4" fill="#2f2626"/>
<rect x="754" y="379.7" width="14" height="2.4" fill="#2f2626"/>
<rect x="754" y="383.9" width="14" height="2.4" fill="#2f2626"/>
<path d="M768,338 L775,337 L777,333 L789,333 L790,337 L793,340 L793,372 L791,374 L791,398 L776,404 L773,409 L768,409 Z" fill="#2e2e2e"/>
<rect x="782" y="338" width="11" height="28" fill="#1a1a1a"/>
<rect x="770" y="350" width="10" height="1.2" fill="#6a6a6a"/>
<rect x="772" y="360" width="9" height="1.2" fill="#6a6a6a"/>
<rect x="770" y="372" width="12" height="1.2" fill="#6a6a6a"/>
<rect x="772" y="384" width="10" height="1.2" fill="#6a6a6a"/>
<rect x="770" y="394" width="12" height="1.2" fill="#6a6a6a"/>
<rect x="776" y="344" width="1.2" height="50" fill="#6a6a6a"/>
<rect x="782" y="328" width="2.5" height="6" fill="#999"/>
<rect x="695.3" y="357.8" width="21.3" height="27.5" rx="6" fill="url(#pulV)"/>
<rect x="699" y="358.5" width="1.2" height="26" fill="#2a2a26"/>
<rect x="702.3" y="358.5" width="1.2" height="26" fill="#2a2a26"/>
<rect x="705.6" y="358.5" width="1.2" height="26" fill="#2a2a26"/>
<rect x="708.9" y="358.5" width="1.2" height="26" fill="#2a2a26"/>
<rect x="712.2" y="358.5" width="1.2" height="26" fill="#2a2a26"/>
<rect x="712" y="361" width="4.6" height="21" fill="#8c8c86"/>
</g>
<text x="743.4" y="444.3" font-size="11.2" font-weight="bold" fill="#dc2229" text-anchor="middle" letter-spacing="-0.4">PL_9104</text>
<text x="743.9" y="483" font-size="10.6" font-weight="bold" fill="#111" text-anchor="middle">D+</text>
<rect x="705" y="514.2" width="14.6" height="7" fill="#dcdcdc"/>
<rect x="721.6" y="514.2" width="62" height="7" fill="#dcdcdc"/>
<rect x="705" y="528.4" width="14.6" height="7" fill="#dcdcdc"/>
<rect x="721.6" y="528.4" width="62" height="7" fill="#dcdcdc"/>
<rect x="705" y="543.7" width="14.6" height="7" fill="#dcdcdc"/>
<rect x="721.6" y="543.7" width="62" height="7" fill="#dcdcdc"/>
<text x="712.3" y="520.3" font-size="5.5" font-weight="bold" fill="#222" text-anchor="middle">D+</text>
<text x="725" y="520.3" font-size="5.5" fill="#555">Lamp</text>
<text x="626.5" y="368.3" font-size="25" font-weight="bold" font-style="italic" fill="#e0262b" stroke="#e0262b" stroke-width="0.7" letter-spacing="-2.2">AS</text>
<rect x="659.5" y="350.8" width="11.3" height="1.4" fill="#e0262b"/>
<rect x="659.4" y="353.4" width="11.5" height="1.4" fill="#e0262b"/>
<rect x="659.2" y="356" width="11.6" height="1.4" fill="#e0262b"/>
<rect x="659" y="358.6" width="11.8" height="1.4" fill="#e0262b"/>
<rect x="658.9" y="361.2" width="11.9" height="1.4" fill="#e0262b"/>
<rect x="658.8" y="363.8" width="12.1" height="1.4" fill="#e0262b"/>
<rect x="658.6" y="366.4" width="12.2" height="1.4" fill="#e0262b"/>
<text x="647.6" y="375.3" font-size="5.3" fill="#555" text-anchor="middle">Alternators, Starters &amp; Parts</text>
<circle cx="264.8" cy="337.2" r="5" fill="#111"/>
<rect x="263.90000000000003" y="336.2" width="1.8" height="4" fill="#fff"/><rect x="263.0" y="339.4" width="3.6" height="1" fill="#fff"/><rect x="263.0" y="336.2" width="1.5" height="1" fill="#fff"/>
<circle cx="264.8" cy="334.4" r="1.1" fill="#fff"/>
<circle cx="264.8" cy="363" r="5" fill="#111"/>
<rect x="263.90000000000003" y="362" width="1.8" height="4" fill="#fff"/><rect x="263.0" y="365.2" width="3.6" height="1" fill="#fff"/><rect x="263.0" y="362" width="1.5" height="1" fill="#fff"/>
<circle cx="264.8" cy="360.2" r="1.1" fill="#fff"/>
<circle cx="582.6" cy="337.3" r="5" fill="#111"/>
<rect x="581.7" y="336.3" width="1.8" height="4" fill="#fff"/><rect x="580.8000000000001" y="339.5" width="3.6" height="1" fill="#fff"/><rect x="580.8000000000001" y="336.3" width="1.5" height="1" fill="#fff"/>
<circle cx="582.6" cy="334.5" r="1.1" fill="#fff"/>
<path d="M17.5,332.5 L23,332.5 L28.5,338 L24,342.5 L17.5,336 Z" fill="#111"/>
<circle cx="19.8" cy="334.8" r="1" fill="#fff"/>
<path d="M24.3,332.5 L25.6,332.5 L30.6,337.8 L26.3,342.3 L25.6,341.6 L29.2,337.8 Z" fill="#111"/>
<path d="M25.5,362.5 L25.5,366 Q25.5,367 24.5,367 L18.8,367 Q17.8,367 17.8,366 L17.8,360.2 Q17.8,359.2 18.8,359.2 L23.5,359.2" fill="none" stroke="#e0262b" stroke-width="1.4"/>
<path d="M19.8,362.2 L22,364.6 L27.8,358.8" fill="none" stroke="#e0262b" stroke-width="2.1"/>
</svg>
<div class="t" style="left:34.5px;top:330.6px">AS index: <b>A3082(P)</b></div>
<div class="t" style="left:34.5px;top:356.8px;color:#e0262b;font-weight:bold;letter-spacing:-0.6px">STANDARD LINE</div>
<div class="t" style="left:275.5px;top:330.6px">Brand new AS-PL Alternator with freewheel pulley</div>
<div class="t" style="left:275.5px;top:356.8px">Product type: <b>Brand new</b></div>
<div class="t" style="left:592px;top:330.6px">Producer: <b>AS-PL</b></div>
<div class="c" style="left:9.5px;top:385.6px;width:167.5px;height:24.2px;background:#e7e7e7"><span>Voltage</span></div>
<div class="c" style="left:177px;top:385.6px;width:167.8px;height:24.2px;background:#fff"><span>12 V</span></div>
<div class="c" style="left:344.8px;top:385.6px;width:166.9px;height:24.2px;background:#e7e7e7"><span>Amp.</span></div>
<div class="c" style="left:511.7px;top:385.6px;width:167.1px;height:24.2px;background:#fff"><span>90 A</span></div>
<div class="c" style="left:9.5px;top:409.8px;width:167.5px;height:24.2px;background:#e7e7e7"><span>Size A</span></div>
<div class="c" style="left:177px;top:409.8px;width:167.8px;height:24.2px;background:#fff"><span>27.00 mm</span></div>
<div class="c" style="left:344.8px;top:409.8px;width:166.9px;height:24.2px;background:#e7e7e7"><span>Size C</span></div>
<div class="c" style="left:511.7px;top:409.8px;width:167.1px;height:24.2px;background:#fff"><span>42.00 mm</span></div>
<div class="c" style="left:9.5px;top:434px;width:167.5px;height:24.2px;background:#e7e7e7"><span>G</span></div>
<div class="c" style="left:177px;top:434px;width:167.8px;height:24.2px;background:#fff"><span>5 qty.</span></div>
<div class="c" style="left:344.8px;top:434px;width:166.9px;height:24.2px;background:#e7e7e7"><span>O.D.1</span></div>
<div class="c" style="left:511.7px;top:434px;width:167.1px;height:24.2px;background:#fff"><span>50.00 mm</span></div>
<div class="c" style="left:9.5px;top:458.2px;width:167.5px;height:24.2px;background:#e7e7e7"><span>Pulley</span></div>
<div class="c" style="left:177px;top:458.2px;width:167.8px;height:24.2px;background:#fff"><span>AFP</span></div>
<div class="c" style="left:344.8px;top:458.2px;width:166.9px;height:24.2px;background:#e7e7e7"><span>D.1</span></div>
<div class="c" style="left:511.7px;top:458.2px;width:167.1px;height:24.2px;background:#fff"><span>8.50 mm</span></div>
<div class="c" style="left:9.5px;top:482.4px;width:167.5px;height:24.2px;background:#e7e7e7"><span>D.2</span></div>
<div class="c" style="left:177px;top:482.4px;width:167.8px;height:24.2px;background:#fff"><span>8.50 mm</span></div>
<div class="c" style="left:344.8px;top:482.4px;width:166.9px;height:24.2px;background:#e7e7e7"><span>D.3</span></div>
<div class="c" style="left:511.7px;top:482.4px;width:167.1px;height:24.2px;background:#fff"><span>8.50 mm</span></div>
<div class="c" style="left:9.5px;top:506.6px;width:167.5px;height:24.2px;background:#e7e7e7"><span>E.1</span></div>
<div class="c" style="left:177px;top:506.6px;width:167.8px;height:24.2px;background:#fff"><span>70.00 mm</span></div>
<div class="c" style="left:344.8px;top:506.6px;width:166.9px;height:24.2px;background:#e7e7e7"><span>E.2</span></div>
<div class="c" style="left:511.7px;top:506.6px;width:167.1px;height:24.2px;background:#fff"><span>140.00 mm</span></div>
<div class="c" style="left:9.5px;top:530.7px;width:167.5px;height:24.2px;background:#e7e7e7"><span>L.1</span></div>
<div class="c" style="left:177px;top:530.7px;width:167.8px;height:24.2px;background:#fff"><span>192.00 mm</span></div>
<div class="c" style="left:344.8px;top:530.7px;width:166.9px;height:24.2px;background:#e7e7e7"><span>Plug</span></div>
<div class="c" style="left:511.7px;top:530.7px;width:167.1px;height:24.2px;background:#fff"><span>PL_9104</span></div>
<div class="hl" style="top:384.6px"></div>
<div class="hl" style="top:408.8px"></div>
<div class="hl" style="top:433px"></div>
<div class="hl" style="top:457.2px"></div>
<div class="hl" style="top:481.4px"></div>
<div class="hl" style="top:505.6px"></div>
<div class="hl" style="top:529.7px"></div>
<div class="hl" style="top:553.9px"></div>
<div class="vl" style="left:8.5px"></div>
<div class="vl" style="left:176px"></div>
<div class="vl" style="left:343.8px"></div>
<div class="vl" style="left:510.7px"></div>
<div class="vl" style="left:677.8px"></div>
</body></html>
